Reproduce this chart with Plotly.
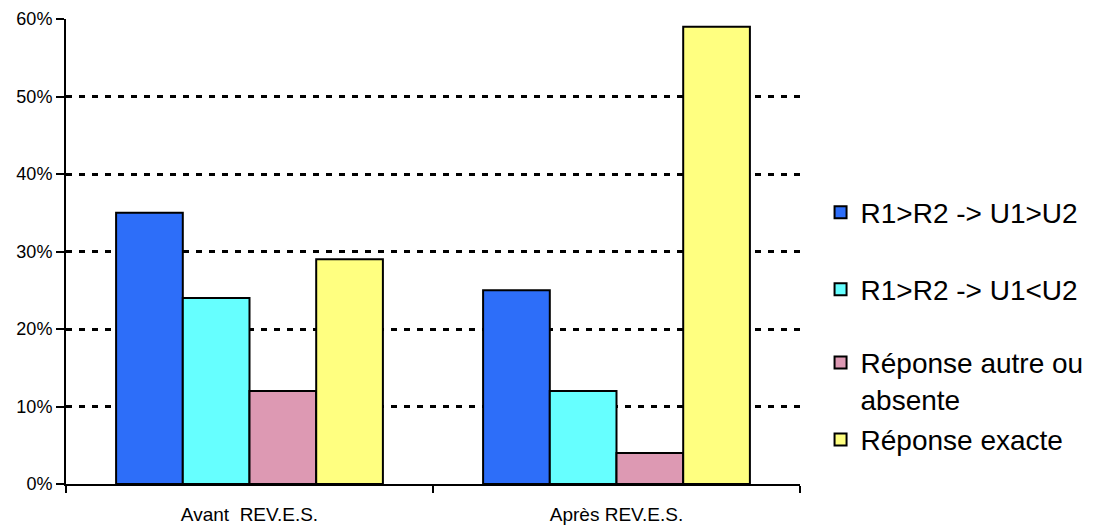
import plotly.graph_objects as go

categories = ["Avant  REV.E.S.", "Après REV.E.S."]
series_names = ["R1>R2 -> U1>U2", "R1>R2 -> U1<U2", "Réponse autre ou<br>absente", "Réponse exacte"]
series_values = [
    [35, 25],
    [24, 12],
    [12, 4],
    [29, 59],
]
series_colors = ["#2D6EF9", "#66FFFF", "#DD99B3", "#FFFF80"]
y_ticks = [0, 10, 20, 30, 40, 50, 60]
y_tick_labels = [f"{v}%" for v in y_ticks]

legend_ids = ["legend", "legend2", "legend3", "legend4"]
legend_y = [0.584, 0.418, 0.222, 0.095]

fig = go.Figure()
for name, vals, col, lg in zip(series_names, series_values, series_colors, legend_ids):
    fig.add_trace(go.Bar(
        x=categories, y=vals, name=name, legend=lg,
        marker=dict(color=col, line=dict(color="black", width=2)),
    ))

font_family = "Liberation Sans, Arial, sans-serif"
legend_common = dict(
    x=1.028, xanchor="left", yanchor="middle",
    font=dict(family=font_family, size=28, color="black"),
    bgcolor="rgba(0,0,0,0)", borderwidth=0, valign="top",
    itemclick=False, itemdoubleclick=False,
)
layout_legends = {}
for lg, ly in zip(legend_ids, legend_y):
    d = dict(legend_common)
    d["y"] = ly
    layout_legends[lg] = d

fig.update_layout(
    width=1106, height=529,
    margin=dict(l=66, r=306, t=19, b=45, autoexpand=False),
    paper_bgcolor="white", plot_bgcolor="white",
    barmode="group", bargap=0.273, bargroupgap=0,
    showlegend=True,
    font=dict(family=font_family, color="black"),
    xaxis=dict(
        automargin=False,
        showline=True, linecolor="black", linewidth=2,
        ticks="outside", tickson="boundaries", ticklen=7, tickwidth=2, tickcolor="black",
        tickfont=dict(size=19, family=font_family, color="black"),
        ticklabelstandoff=12,
        showgrid=False, zeroline=False,
    ),
    yaxis=dict(
        automargin=False,
        range=[0, 60], tickmode="array", tickvals=y_ticks, ticktext=y_tick_labels,
        showline=True, linecolor="black", linewidth=2,
        ticks="outside", ticklen=8, tickwidth=2, tickcolor="black",
        tickfont=dict(size=18, family=font_family, color="black"),
        showgrid=True, gridcolor="black", gridwidth=2.5, griddash="6px,7px",
        zeroline=False,
    ),
    **layout_legends,
)

fig.write_html("out.html", config={"displayModeBar": False},
               post_script="document.body.style.margin='0';")
